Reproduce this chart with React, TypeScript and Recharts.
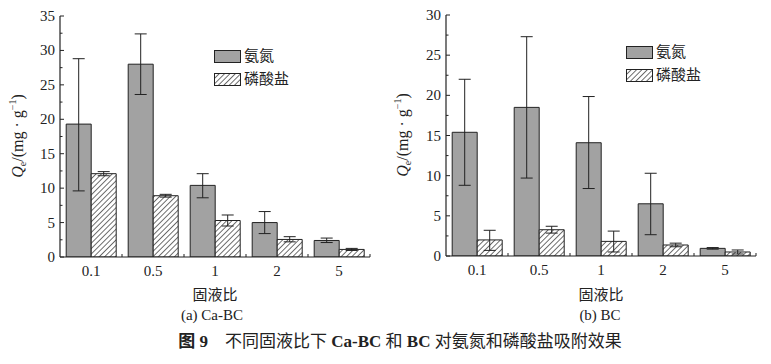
import { BarChart, Bar, XAxis, YAxis, ErrorBar } from "recharts";

const ratios = ["0.1", "0.5", "1", "2", "5"];

// (a) Ca-BC
const caNh4 = [19.3, 28.0, 10.4, 5.0, 2.4];
const caNh4Low = [9.6, 23.6, 8.6, 3.4, 2.1];
const caNh4High = [28.8, 32.4, 12.1, 6.6, 2.75];
const caPo4 = [12.1, 8.9, 5.3, 2.55, 1.1];
const caPo4Low = [11.8, 8.7, 4.5, 2.2, 0.95];
const caPo4High = [12.4, 9.1, 6.1, 2.95, 1.25];

// (b) BC
const bcNh4 = [15.4, 18.5, 14.1, 6.5, 0.95];
const bcNh4Low = [8.8, 9.7, 8.4, 2.65, 0.85];
const bcNh4High = [22.0, 27.3, 19.85, 10.3, 1.05];
const bcPo4 = [2.0, 3.27, 1.82, 1.37, 0.5];
const bcPo4Low = [0.7, 2.85, 0.5, 1.15, 0.25];
const bcPo4High = [3.2, 3.7, 3.1, 1.6, 0.75];

const caTicks = [0, 2.5, 5, 7.5, 10, 12.5, 15, 17.5, 20, 22.5, 25, 27.5, 30, 32.5, 35];
const bcTicks = [0, 2.5, 5, 7.5, 10, 12.5, 15, 17.5, 20, 22.5, 25, 27.5, 30];

const SERIF = '"Liberation Serif", "Times New Roman", "Noto Sans CJK SC", serif';
const CJK = '"Liberation Serif", "Noto Sans CJK SC", serif';
const INK = "#222";
const GRAY = "#a2a2a2";

function build(v: number[], vl: number[], vh: number[], p: number[], pl: number[], ph: number[]) {
  return ratios.map((r, i) => ({
    ratio: r,
    nh4: v[i],
    nh4Err: [v[i] - vl[i], vh[i] - v[i]],
    po4: p[i],
    po4Err: [p[i] - pl[i], ph[i] - p[i]],
  }));
}

function Hatch({ id }: { id: string }) {
  return (
    <pattern id={id} patternUnits="userSpaceOnUse" width={3.8} height={3.8} patternTransform="rotate(45)">
      <rect width={3.8} height={3.8} fill="#fff" />
      <line x1={0} y1={0} x2={0} y2={3.8} stroke={INK} strokeWidth={1.3} />
    </pattern>
  );
}

function YTick(props: any) {
  const { y, payload, axisX } = props;
  const major = payload.value % 5 === 0;
  return (
    <g>
      <line x1={axisX} x2={axisX + (major ? 4 : 2.5)} y1={y} y2={y} stroke={INK} strokeWidth={1} />
      {major && (
        <text x={axisX - 5} y={y} dy={5} textAnchor="end" fontSize={15} fontFamily={SERIF} fill={INK}>
          {payload.value}
        </text>
      )}
    </g>
  );
}

function XTick(props: any) {
  const { x, payload, axisY, half } = props;
  return (
    <g>
      <line x1={x + half} x2={x + half} y1={axisY} y2={axisY - 3} stroke={INK} strokeWidth={1} />
      <text x={x} y={axisY} dy={19} textAnchor="middle" fontSize={15} fontFamily={SERIF} fill={INK}>
        {payload.value}
      </text>
    </g>
  );
}

function Swatches({ pid, left, top }: { pid: string; left: number; top: number }) {
  return (
    <div style={{ position: "absolute", left, top, fontFamily: CJK, fontSize: 15, color: INK, lineHeight: "23px" }}>
      <svg width={28} height={46} style={{ position: "absolute", left: 0, top: 0 }}>
        <defs>
          <Hatch id={pid} />
        </defs>
        <rect x={0.5} y={4.5} width={26} height={12} fill={GRAY} stroke={INK} />
        <rect x={0.5} y={27.5} width={26} height={12} fill={`url(#${pid})`} stroke={INK} />
      </svg>
      <div style={{ marginLeft: 30, marginTop: -1, whiteSpace: "nowrap" }}>氨氮</div>
      <div style={{ marginLeft: 30, whiteSpace: "nowrap" }}>磷酸盐</div>
    </div>
  );
}

function Panel(props: {
  left: number;
  plotTop: number;
  plotH: number;
  axisX: number;
  yMax: number;
  ticks: number[];
  data: any[];
  pid: string;
}) {
  const { left, plotTop, plotH, axisX, yMax, ticks, data, pid } = props;
  const W = 380;
  const padTop = 10;
  const xAxisH = 30;
  const H = padTop + plotH + xAxisH;
  const yAxisW = axisX - left;
  const plotW = 310;
  return (
    <div style={{ position: "absolute", left, top: plotTop - padTop, width: W, height: H }}>
      <BarChart
        width={W}
        height={H}
        data={data}
        margin={{ top: padTop, right: W - yAxisW - plotW, left: 0, bottom: 0 }}
        barCategoryGap="10%"
        barGap={0}
      >
        <defs>
          <Hatch id={pid + "b"} />
        </defs>
        <XAxis
          dataKey="ratio"
          height={xAxisH}
          axisLine={{ stroke: INK, strokeWidth: 1.2 }}
          tickLine={false}
          tick={<XTick axisY={padTop + plotH} half={plotW / ratios.length / 2} />}
          interval={0}
        />
        <YAxis
          width={yAxisW}
          domain={[0, yMax]}
          ticks={ticks}
          allowDataOverflow
          axisLine={{ stroke: INK, strokeWidth: 1.2 }}
          tickLine={false}
          tick={<YTick axisX={yAxisW} />}
          interval={0}
        />
        <Bar dataKey="nh4" name="氨氮" fill={GRAY} stroke={INK} strokeWidth={1} isAnimationActive={false}>
          <ErrorBar dataKey="nh4Err" width={6} stroke={INK} strokeWidth={1} />
        </Bar>
        <Bar dataKey="po4" name="磷酸盐" fill={`url(#${pid}b)`} stroke={INK} strokeWidth={1} isAnimationActive={false}>
          <ErrorBar dataKey="po4Err" width={6} stroke={INK} strokeWidth={1} />
        </Bar>
      </BarChart>
    </div>
  );
}

function YLabel({ x, y }: { x: number; y: number }) {
  return (
    <svg style={{ position: "absolute", left: 0, top: 0, overflow: "visible" }} width={1} height={1}>
      <text
        transform={`translate(${x},${y}) rotate(-90)`}
        textAnchor="middle"
        fontSize={16}
        fontFamily={SERIF}
        fill={INK}
      >
        <tspan fontStyle="italic">Q</tspan>
        <tspan fontSize={10} dy={3}>e</tspan>
        <tspan dy={-3}>/(mg · g</tspan>
        <tspan fontSize={10} dy={-7}>−1</tspan>
        <tspan dy={7}>)</tspan>
      </text>
    </svg>
  );
}

const caData = build(caNh4, caNh4Low, caNh4High, caPo4, caPo4Low, caPo4High);
const bcData = build(bcNh4, bcNh4Low, bcNh4High, bcPo4, bcPo4Low, bcPo4High);

export default function App() {
  const textStyle: any = {
    position: "absolute",
    fontFamily: CJK,
    fontSize: 15,
    color: INK,
    whiteSpace: "nowrap",
    transform: "translateX(-50%)",
  };
  return (
    <div style={{ position: "fixed", left: 0, top: 0, width: 771, height: 364, background: "#fff" }}>
      <Panel left={0} plotTop={16} plotH={241} axisX={60} yMax={35} ticks={caTicks} data={caData} pid="hatchA" />
      <Panel left={380} plotTop={15} plotH={241} axisX={446} yMax={30} ticks={bcTicks} data={bcData} pid="hatchB" />
      <Swatches pid="legA" left={214} top={46} />
      <Swatches pid="legB" left={626} top={42} />
      <YLabel x={23} y={136} />
      <YLabel x={408} y={135} />
      <div style={{ ...textStyle, left: 215, top: 283 }}>固液比</div>
      <div style={{ ...textStyle, left: 601, top: 283 }}>固液比</div>
      <div style={{ ...textStyle, left: 212, top: 307 }}>(a) Ca-BC</div>
      <div style={{ ...textStyle, left: 600, top: 307 }}>(b) BC</div>
      <div style={{ ...textStyle, left: 400, top: 327, fontSize: 17, fontWeight: "bold" }}>
        图 9&nbsp;&nbsp;&nbsp;&nbsp;<span style={{ fontWeight: "normal" }}>不同固液比下 </span>Ca-BC
        <span style={{ fontWeight: "normal" }}> 和 </span>BC
        <span style={{ fontWeight: "normal" }}> 对氨氮和磷酸盐吸附效果</span>
      </div>
    </div>
  );
}
